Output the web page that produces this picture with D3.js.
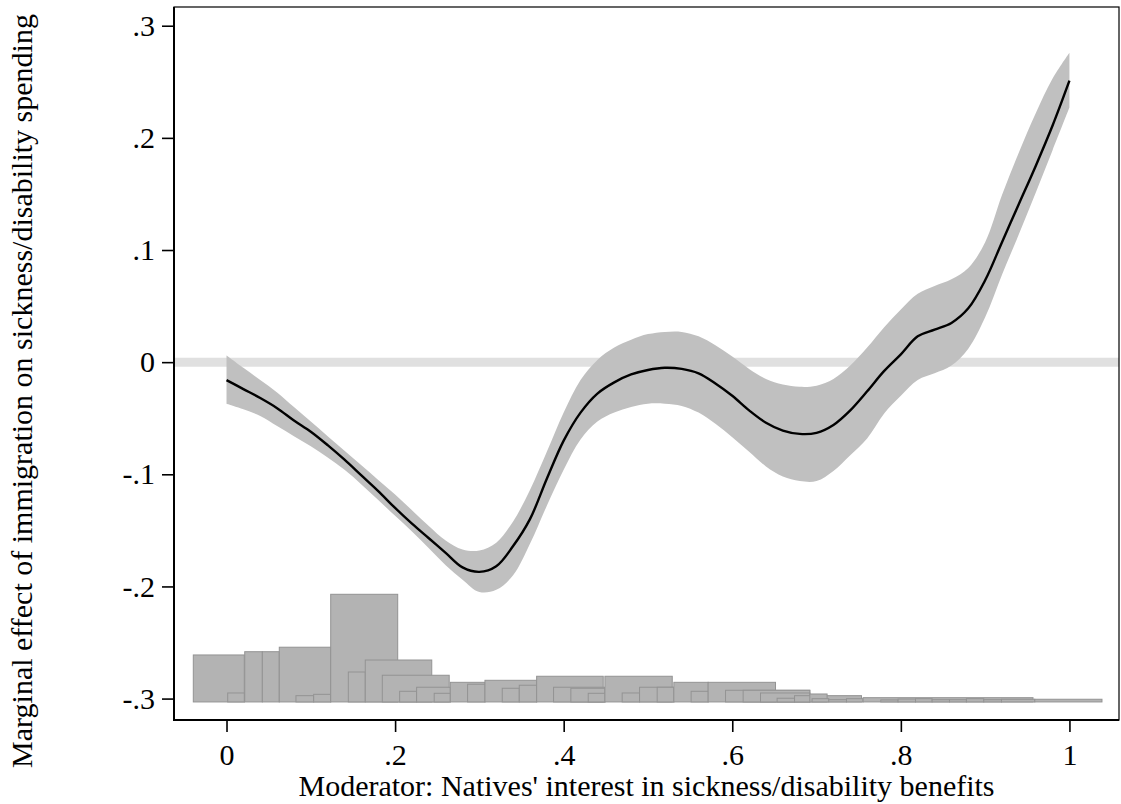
<!DOCTYPE html>
<html>
<head>
<meta charset="utf-8">
<script src="https://cdn.jsdelivr.net/npm/d3@7"></script>
<style>
  html, body { margin: 0; padding: 0; background: #fff; }
  svg { display: block; font-family: "Liberation Serif", "Times New Roman", serif; }
</style>
</head>
<body>
<script>
// Moderator grid and marginal effect estimates
const moderator = [0, .02, .04, .06, .08, .10, .12, .14, .16, .18, .20, .22, .24, .26, .28, .30,
  .32, .34, .36, .38, .40, .42, .44, .46, .48, .50, .52, .54, .56, .58, .60, .62, .64, .66,
  .68, .70, .72, .74, .76, .78, .80, .82, .84, .86, .88, .90, .92, .94, .96, .98, 1.0];
const effect = [-.016, -.024, -.032, -.041, -.052, -.062, -.074, -.087, -.101, -.115, -.130,
  -.144, -.157, -.170, -.183, -.187, -.182, -.164, -.140, -.104, -.070, -.045, -.028, -.018,
  -.011, -.007, -.005, -.006, -.010, -.019, -.030, -.043, -.054, -.061, -.064, -.063, -.056,
  -.043, -.026, -.008, .007, .023, .029, .035, .048, .073, .107, .141, .175, .211, .251];
const upper = [.006, -.005, -.016, -.027, -.040, -.053, -.066, -.079, -.092, -.105, -.118,
  -.132, -.146, -.159, -.167, -.168, -.161, -.142, -.114, -.080, -.045, -.016, .002, .013,
  .020, .025, .027, .027, .023, .015, .005, -.006, -.015, -.020, -.022, -.021, -.015,
  -.003, .013, .031, .047, .061, .068, .074, .084, .107, .149, .187, .222, .253, .276];
const lower = [-.037, -.042, -.048, -.057, -.066, -.075, -.085, -.096, -.109, -.123, -.137,
  -.151, -.166, -.181, -.194, -.205, -.203, -.190, -.162, -.128, -.096, -.069, -.053, -.045,
  -.040, -.037, -.037, -.039, -.045, -.055, -.067, -.080, -.093, -.102, -.106, -.106, -.097,
  -.083, -.068, -.046, -.030, -.016, -.010, -.003, .012, .040, .078, .114, .151, .189, .227];

// Histogram of the moderator (bar start, bar end, bar top), drawn on a base of -.303
const histStart = [-.0394, .0014, .0216, .0425, .0626, .0824, .1034, .1236, .1445, .1646,
  .1848, .2054, .2255, .2464, .2655, .2860, .3066, .3271, .3473, .3679, .3880, .4085, .4291,
  .4489, .4694, .4900, .5109, .5307, .5512, .5714, .5920, .6129, .6335, .6532, .6739, .6920,
  .6947, .7145, .7355, .7552, .7762, .7967, .8174, .8371, .8577, .8778, .8984, .9194, .9589];
const histEnd = [.0211, .0211, .0425, .0626, .1236, .1034, .1236, .2031, .1646, .2435,
  .2642, .2255, .2655, .2655, .3066, .3066, .3679, .3473, .3679, .4469, .4489, .4489, .4489,
  .5288, .4900, .5307, .5307, .5714, .5714, .6513, .6920, .6920, .6920, .6739, .7533, .7125,
  .7145, .7355, .7552, .9568, .7967, .8174, .8371, .8577, .8778, .8984, .9194, .9589, 1.0386];
const histTop = [-.2611, -.2950, -.2582, -.2582, -.2542, -.2974, -.2962, -.2070, -.2763, -.2656,
  -.2792, -.2935, -.2899, -.2953, -.2855, -.2872, -.2837, -.2908, -.2881, -.2801, -.2899, -.2908, -.2953,
  -.2801, -.2950, -.2899, -.2899, -.2855, -.2935, -.2855, -.2926, -.2926, -.2950, -.2997, -.2974, -.2959,
  -.3001, -.3010, -.3001, -.2992, -.3012, -.3004, -.3001, -.3010, -.3010, -.3001, -.3010, -.3006, -.3006];
const histBase = -.303;

const xTicks = [0, .2, .4, .6, .8, 1];
const xTickLabels = ["0", ".2", ".4", ".6", ".8", "1"];
const yTicks = [-.3, -.2, -.1, 0, .1, .2, .3];
const yTickLabels = ["-.3", "-.2", "-.1", "0", ".1", ".2", ".3"];

const xTitle = "Moderator: Natives' interest in sickness/disability benefits";
const yTitle = "Marginal effect of immigration on sickness/disability spending";

const width = 1121, height = 804;
const plot = { left: 174, right: 1119, top: 7, bottom: 720 };
const fontSize = 30;

const x = d3.scaleLinear()
  .domain([-0.0623, 1.0588])
  .range([plot.left, plot.right]);
const y = d3.scaleLinear()
  .domain([-0.3191, 0.3167])
  .range([plot.bottom, plot.top]);

const svg = d3.select("body").append("svg")
  .attr("width", width)
  .attr("height", height);

// Reference line at zero
svg.append("line")
  .attr("x1", plot.left).attr("x2", plot.right)
  .attr("y1", y(0)).attr("y2", y(0))
  .attr("stroke", "#e0e0e0")
  .attr("stroke-width", 9);

const points = moderator.map((m, i) => ({ m, est: effect[i], hi: upper[i], lo: lower[i] }));

// Confidence band
svg.append("path")
  .datum(points)
  .attr("fill", "#c0c0c0")
  .attr("d", d3.area()
    .x((d) => x(d.m))
    .y0((d) => y(d.lo))
    .y1((d) => y(d.hi))
    .curve(d3.curveCatmullRom));

// Point estimate
svg.append("path")
  .datum(points)
  .attr("fill", "none")
  .attr("stroke", "#000")
  .attr("stroke-width", 2.4)
  .attr("stroke-linejoin", "round")
  .attr("d", d3.line()
    .x((d) => x(d.m))
    .y((d) => y(d.est))
    .curve(d3.curveCatmullRom));

// Histogram
const bars = histStart.map((s, i) => ({ s, e: histEnd[i], top: histTop[i] }));
svg.append("g")
  .selectAll("rect")
  .data(bars)
  .join("rect")
  .attr("x", (d) => x(d.s))
  .attr("width", (d) => x(d.e) - x(d.s))
  .attr("y", (d) => y(d.top))
  .attr("height", (d) => y(histBase) - y(d.top))
  .attr("fill", "#b3b3b3")
  .attr("stroke", "#939393")
  .attr("stroke-width", 1);

// Frame
svg.append("rect")
  .attr("x", plot.left).attr("y", plot.top)
  .attr("width", plot.right - plot.left)
  .attr("height", plot.bottom - plot.top)
  .attr("fill", "none")
  .attr("stroke", "#000")
  .attr("stroke-width", 1.2);
svg.append("path")
  .attr("d", `M${plot.left},${plot.top}V${plot.bottom}H${plot.right}`)
  .attr("fill", "none")
  .attr("stroke", "#000")
  .attr("stroke-width", 2);

// Axes
const xAxis = svg.append("g")
  .attr("transform", `translate(0,${plot.bottom})`)
  .call(d3.axisBottom(x)
    .tickValues(xTicks)
    .tickFormat((d, i) => xTickLabels[i])
    .tickSize(12)
    .tickSizeOuter(0)
    .tickPadding(12));

const yAxis = svg.append("g")
  .attr("transform", `translate(${plot.left},0)`)
  .call(d3.axisLeft(y)
    .tickValues(yTicks)
    .tickFormat((d, i) => yTickLabels[i])
    .tickSize(12)
    .tickSizeOuter(0)
    .tickPadding(7));

[xAxis, yAxis].forEach((g) => {
  g.select(".domain").remove();
  g.selectAll(".tick line").attr("stroke", "#000").attr("stroke-width", 1.6);
  g.selectAll(".tick text")
    .attr("fill", "#000")
    .style("font-family", "'Liberation Serif', 'Times New Roman', serif")
    .style("font-size", fontSize + "px");
});

// Titles
svg.append("text")
  .attr("x", (plot.left + plot.right) / 2)
  .attr("y", 796)
  .attr("text-anchor", "middle")
  .attr("font-size", fontSize)
  .attr("fill", "#000")
  .text(xTitle);

svg.append("text")
  .attr("transform", "translate(32,391) rotate(-90)")
  .attr("text-anchor", "middle")
  .attr("font-size", fontSize)
  .attr("fill", "#000")
  .text(yTitle);
</script>
</body>
</html>
